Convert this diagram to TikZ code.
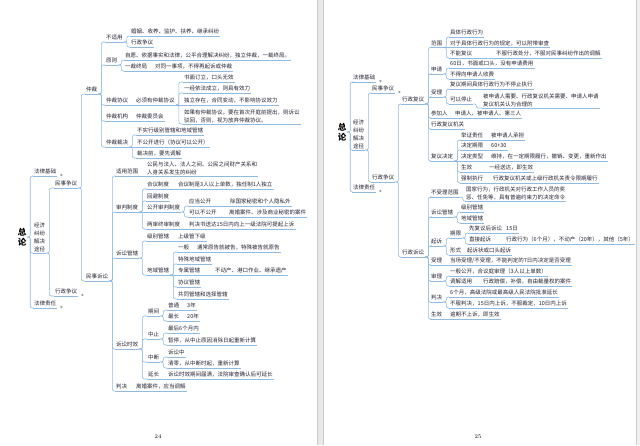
\documentclass[tikz,border=0pt]{standalone}
\usepackage{fontspec}
\usepackage{tikz}
\usetikzlibrary{calc}
\newfontfamily\cjk{Noto Sans CJK SC}
\definecolor{txt}{RGB}{35,35,52}
\definecolor{ln}{RGB}{145,186,224}
% parent -> child over a rounded bus, straight joint, root joint
\newcommand{\mmfork}[2]{\draw[link] (#1.south east) -- ++(3,0) |- (#2.south west);}
\newcommand{\mmpair}[2]{\draw[link] (#1.south east) -- (#2.south west);}
\newcommand{\mmroot}[2]{\draw[link] (#1.east) -- ++(2.8,0) |- (#2.south west);}

\begin{document}
\begin{tikzpicture}[x=1pt,y=-1pt,
  ul/.style={draw=ln,line width=0.6pt},
  link/.style={draw=ln,line width=0.6pt,rounded corners=2pt},
  tp/.style={font=\cjk\fontsize{5.5}{7.8}\selectfont,text=txt,inner xsep=1pt,inner ysep=1pt,
    append after command={(\tikzlastnode.south west) edge[ul] (\tikzlastnode.south east)}},
  leaf/.style={tp,anchor=west,text height=4.6pt,text depth=1pt},
  multi/.style={tp,anchor=south west,align=left},
  root/.style={font=\cjk\bfseries\fontsize{8.5}{10}\selectfont,text=black,align=center,inner sep=1pt},
  knob/.style={fill=gray!75}]
  \useasboundingbox (0,0) rectangle (640,445);
  \fill[white] (0,0) rectangle (640,445);
  % page edges
  \fill[gray!18] (317,0) rectangle (323,445);
  \draw[gray!40] (317,0) -- (317,445) (323,0) -- (323,445);
  \fill[gray!12] (636,0) rectangle (640,445);
  \draw[gray!40] (636,0) -- (636,445);

  % ---------------- page 24 ----------------
  \node[root] (L) at (22,237) {总\\论};
  \node[leaf] (Ljc) at (33,172) {法律基础};
  \node[multi] (Ltj) at (33,253) {经济\\纠纷\\解决\\途径};
  \node[leaf] (Lzr) at (33,304) {法律责任};
  \node[leaf] (Lms) at (54,184) {民事争议};
  \node[leaf] (Lxz) at (54,292) {行政争议};
  \node[leaf] (Lzc) at (85,90) {仲裁};
  \node[leaf] (Lss) at (85,277) {民事诉讼};
  % arbitration
  \node[leaf] (bsy) at (105,38) {不适用};
  \node[leaf] (bsy1) at (130,32) {婚姻、收养、监护、扶养、继承纠纷};
  \node[leaf] (bsy2) at (130,43) {行政争议};
  \node[leaf] (yz) at (105,61) {原则};
  \node[leaf] (yz1) at (124,56) {自愿、依据事实和法律，公平合理解决纠纷，独立仲裁，一裁终局。};
  \node[leaf] (yz2) at (124,67) {一裁终局};
  \node[leaf] (yz3) at (154,67) {对同一事项，不得再起诉或仲裁};
  \node[leaf] (xy) at (105,101) {仲裁协议};
  \node[leaf] (xy0) at (135,101) {必须有仲裁协议};
  \node[leaf] (xy1) at (183,78) {书面订立，口头无效};
  \node[leaf] (xy2) at (183,89) {一经依法成立，则具有效力};
  \node[leaf] (xy3) at (183,101) {独立存在，合同变动，不影响协议效力};
  \node[multi] (xy4) at (183,124) {如果有仲裁协议，要在首次开庭前提出，则诉讼\\驳回，否则，视为放弃仲裁协议。};
  \node[leaf] (jg) at (105,117) {仲裁机构};
  \node[leaf] (jg1) at (135,117) {仲裁委员会};
  \node[leaf] (cj) at (105,143) {仲裁裁决};
  \node[leaf] (cj1) at (136,131) {不实行级别管辖和地域管辖};
  \node[leaf] (cj2) at (136,143) {不公开进行（协议可以公开）};
  \node[leaf] (cj3) at (136,154) {裁决前，要先调解};
  % civil litigation
  \node[leaf] (fw) at (115,172) {适用范围};
  \node[multi] (fw1) at (146,176) {公民与法人、法人之间、公民之间财产关系和\\人身关系发生的纠纷};
  \node[leaf] (sp) at (115,208) {审判制度};
  \node[leaf] (sp1) at (146,185) {合议制度};
  \node[leaf] (sp1a) at (177,185) {合议制是3人以上单数，独任制1人独立};
  \node[leaf] (sp2) at (146,197) {回避制度};
  \node[leaf] (sp3) at (146,208) {公开审判制度};
  \node[leaf] (sp3a) at (188,202) {应当公开};
  \node[leaf] (sp3b) at (229,202) {除国家秘密和个人隐私外};
  \node[leaf] (sp3c) at (188,213) {可以不公开};
  \node[leaf] (sp3d) at (228,213) {离婚案件、涉及商业秘密的案件};
  \node[leaf] (sp4) at (146,225) {两审终审制度};
  \node[leaf] (sp4a) at (188,225) {判决书送达15日内向上一级法院可提起上诉};
  \node[leaf] (gx) at (115,254) {诉讼管辖};
  \node[leaf] (gx1) at (146,237) {级别管辖};
  \node[leaf] (gx1a) at (177,237) {上级管下级};
  \node[leaf] (gx2) at (146,271) {地域管辖};
  \node[leaf] (gx2a) at (177,248) {一般};
  \node[leaf] (gx2b) at (196,248) {通常原告就被告，特殊被告就原告};
  \node[leaf] (gx2c) at (177,260) {特殊地域管辖};
  \node[leaf] (gx2d) at (177,271) {专属管辖};
  \node[leaf] (gx2e) at (214,271) {不动产、港口作业、继承遗产};
  \node[leaf] (gx2f) at (177,283) {协议管辖};
  \node[leaf] (gx2g) at (177,295) {共同管辖和选择管辖};
  \node[leaf] (sx) at (115,345) {诉讼时效};
  \node[leaf] (qj) at (147,312) {期间};
  \node[leaf] (qj1) at (167,306) {普通};
  \node[leaf] (qj1a) at (186,306) {3年};
  \node[leaf] (qj2) at (167,317) {最长};
  \node[leaf] (qj2a) at (186,317) {20年};
  \node[leaf] (zz) at (147,335) {中止};
  \node[leaf] (zz1) at (167,329) {最后6个月内};
  \node[leaf] (zz2) at (167,341) {暂停，从中止原因消除日起重新计算};
  \node[leaf] (zd) at (147,358) {中断};
  \node[leaf] (zd1) at (167,353) {诉讼中};
  \node[leaf] (zd2) at (167,364) {清零，从中断时起，重新计算};
  \node[leaf] (yc) at (147,375) {延长};
  \node[leaf] (yc1) at (167,375) {诉讼时效期间届满，法院审查确认后可延长};
  \node[leaf] (pj) at (115,387) {判决};
  \node[leaf] (pj1) at (135,387) {离婚案件，应当调解};
  \node[font=\fontsize{5.5}{6}\selectfont] (p24) at (158,437) {24};

  \foreach \c in {Ljc,Ltj,Lzr} {\mmroot{L}{\c}}
  \foreach \c in {Lms,Lxz} {\mmfork{Ltj}{\c}}
  \foreach \c in {Lzc,Lss} {\mmfork{Lms}{\c}}
  \foreach \c in {bsy,yz,xy,jg,cj} {\mmfork{Lzc}{\c}}
  \foreach \c in {bsy1,bsy2} {\mmfork{bsy}{\c}}
  \foreach \c in {yz1,yz2} {\mmfork{yz}{\c}}
  \foreach \c in {xy1,xy2,xy4} {\mmfork{xy0}{\c}}
  \foreach \c in {cj1,cj3} {\mmfork{cj}{\c}}
  \foreach \c in {fw,sp,gx,sx,pj} {\mmfork{Lss}{\c}}
  \foreach \c in {sp1,sp2,sp4} {\mmfork{sp}{\c}}
  \foreach \c in {sp3a,sp3c} {\mmfork{sp3}{\c}}
  \foreach \c in {gx1,gx2} {\mmfork{gx}{\c}}
  \foreach \c in {gx2a,gx2c,gx2f,gx2g} {\mmfork{gx2}{\c}}
  \foreach \c in {qj,zz,zd,yc} {\mmfork{sx}{\c}}
  \foreach \c in {qj1,qj2} {\mmfork{qj}{\c}}
  \foreach \c in {zz1,zz2} {\mmfork{zz}{\c}}
  \foreach \c in {zd1,zd2} {\mmfork{zd}{\c}}
  \foreach \a/\b in {yz2/yz3,xy/xy0,xy0/xy3,jg/jg1,cj/cj2,fw/fw1,sp/sp3,sp1/sp1a,sp3a/sp3b,
    sp3c/sp3d,sp4/sp4a,gx1/gx1a,gx2/gx2d,gx2a/gx2b,gx2d/gx2e,qj1/qj1a,qj2/qj2a,yc/yc1,pj/pj1}
    {\mmpair{\a}{\b}}

  % ---------------- page 25 ----------------
  \node[root] (R) at (342,132) {总\\论};
  \node[leaf] (Rjc) at (352,78) {法律基础};
  \node[multi] (Rtj) at (352,150) {经济\\纠纷\\解决\\途径};
  \node[leaf] (Rzr) at (352,188) {法律责任};
  \node[leaf] (Rms) at (371,89) {民事争议};
  \node[leaf] (Rxz) at (371,178) {行政争议};
  \node[leaf] (fy) at (401,100) {行政复议};
  \node[leaf] (su) at (401,253) {行政诉讼};
  % administrative review
  \node[leaf] (fw2) at (430,43.5) {范围};
  \node[leaf] (fw2a) at (449,33) {具体行政行为};
  \node[leaf] (fw2b) at (449,43.5) {对于具体行政行为的规定，可以附带审查};
  \node[leaf] (fw2c) at (449,54) {不能复议};
  \node[leaf] (fw2d) at (495,54) {不服行政处分，不服对民事纠纷作出的调解};
  \node[leaf] (sq) at (430,70) {申请};
  \node[leaf] (sq1) at (449,64) {60日，书面或口头，没有申请费用};
  \node[leaf] (sq2) at (449,75) {不得向申请人收费};
  \node[leaf] (sl) at (430,93) {受理};
  \node[leaf] (sl1) at (449,85) {复议期间具体行政行为不停止执行};
  \node[leaf] (sl2) at (449,100) {可以停止};
  \node[multi] (sl3) at (482,108) {被申请人需要、行政复议机关需要、申请人申请\\复议机关认为合理的};
  \node[leaf] (cjr) at (430,114) {参加人};
  \node[leaf] (cjr1) at (454,114) {申请人、被申请人、第三人};
  \node[leaf] (jg2) at (430,125) {行政复议机关};
  \node[leaf] (jd) at (430,157) {复议决定};
  \node[leaf] (jd1) at (460,136) {举证责任};
  \node[leaf] (jd1a) at (490,136) {被申请人承担};
  \node[leaf] (jd2) at (460,146) {决定期限};
  \node[leaf] (jd2a) at (490,146) {60+30};
  \node[leaf] (jd3) at (460,157) {决定类型};
  \node[leaf] (jd3a) at (490,157) {维持，在一定期限履行，撤销、变更，重新作出};
  \node[leaf] (jd4) at (460,168) {生效};
  \node[leaf] (jd4a) at (488,168) {一经送达，即生效};
  \node[leaf] (jd5) at (460,179) {强制执行};
  \node[leaf] (jd5a) at (492,179) {行政复议机关或上级行政机关责令限期履行};
  % administrative litigation
  \node[leaf] (bs) at (430,193) {不受理范围};
  \node[multi] (bs1) at (465,201) {国家行为，行政机关对行政工作人员的奖\\惩、任免等，具有普遍约束力的决定命令};
  \node[leaf] (gx3) at (430,213) {诉讼管辖};
  \node[leaf] (gx3a) at (460,208) {级别管辖};
  \node[leaf] (gx3b) at (460,219) {地域管辖};
  \node[leaf] (qs) at (430,242) {起诉};
  \node[leaf] (qs1) at (449,234) {期限};
  \node[leaf] (qs1a) at (468,229) {先复议后诉讼};
  \node[leaf] (qs1b) at (505,229) {15日};
  \node[leaf] (qs1c) at (468,240) {直接起诉};
  \node[leaf] (qs1d) at (505,240) {行政行为（6个月），不动产（20年），其他（5年）};
  \node[leaf] (qs2) at (449,251) {形式};
  \node[leaf] (qs2a) at (466,251) {起诉状或口头起诉};
  \node[leaf] (sl4) at (430,261) {受理};
  \node[leaf] (sl4a) at (449,261) {当场受理/不受理，不能判定的7日内决定是否受理};
  \node[leaf] (sli) at (430,277) {审理};
  \node[leaf] (sli1) at (449,272) {一般公开，合议庭审理（3人以上单数）};
  \node[leaf] (sli2) at (449,282) {调解适用};
  \node[leaf] (sli3) at (482,282) {行政赔偿，补偿，自由裁量权的案件};
  \node[leaf] (pj2) at (430,298) {判决};
  \node[leaf] (pj2a) at (449,293) {6个月，高级法院或最高级人民法院批准延长};
  \node[leaf] (pj2b) at (449,304) {不服判决，15日内上诉，不服裁定，10日内上诉};
  \node[leaf] (sx2) at (430,315) {生效};
  \node[leaf] (sx2a) at (449,315) {逾期不上诉，即生效};
  \node[font=\fontsize{5.5}{6}\selectfont] (p25) at (478,437) {25};

  \foreach \c in {Rjc,Rtj,Rzr} {\mmroot{R}{\c}}
  \foreach \c in {Rms,Rxz} {\mmfork{Rtj}{\c}}
  \foreach \c in {fy,su} {\mmfork{Rxz}{\c}}
  \foreach \c in {fw2,sq,sl,cjr,jg2,jd} {\mmfork{fy}{\c}}
  \foreach \c in {fw2a,fw2c} {\mmfork{fw2}{\c}}
  \foreach \c in {sq1,sq2} {\mmfork{sq}{\c}}
  \foreach \c in {sl1,sl2} {\mmfork{sl}{\c}}
  \mmfork{sl2}{sl3}
  \foreach \c in {jd1,jd2,jd4,jd5} {\mmfork{jd}{\c}}
  \foreach \c in {bs,gx3,qs,sl4,sli,pj2,sx2} {\mmfork{su}{\c}}
  \mmfork{bs}{bs1}
  \foreach \c in {gx3a,gx3b} {\mmfork{gx3}{\c}}
  \foreach \c in {qs1,qs2} {\mmfork{qs}{\c}}
  \foreach \c in {qs1a,qs1c} {\mmfork{qs1}{\c}}
  \foreach \c in {sli1,sli2} {\mmfork{sli}{\c}}
  \foreach \c in {pj2a,pj2b} {\mmfork{pj2}{\c}}
  \foreach \a/\b in {fw2/fw2b,fw2c/fw2d,cjr/cjr1,jd/jd3,jd1/jd1a,jd2/jd2a,jd3/jd3a,jd4/jd4a,
    jd5/jd5a,qs1a/qs1b,qs1c/qs1d,qs2/qs2a,sl4/sl4a,sli2/sli3,sx2/sx2a}
    {\mmpair{\a}{\b}}

  % collapsed-branch knobs
  \foreach \n in {Ljc,Lxz,Lzr,Rjc,Rms,Rzr}
    \fill[knob] ($(\n.south east)+(4,-1)$) circle (1.3pt);
\end{tikzpicture}
\end{document}
